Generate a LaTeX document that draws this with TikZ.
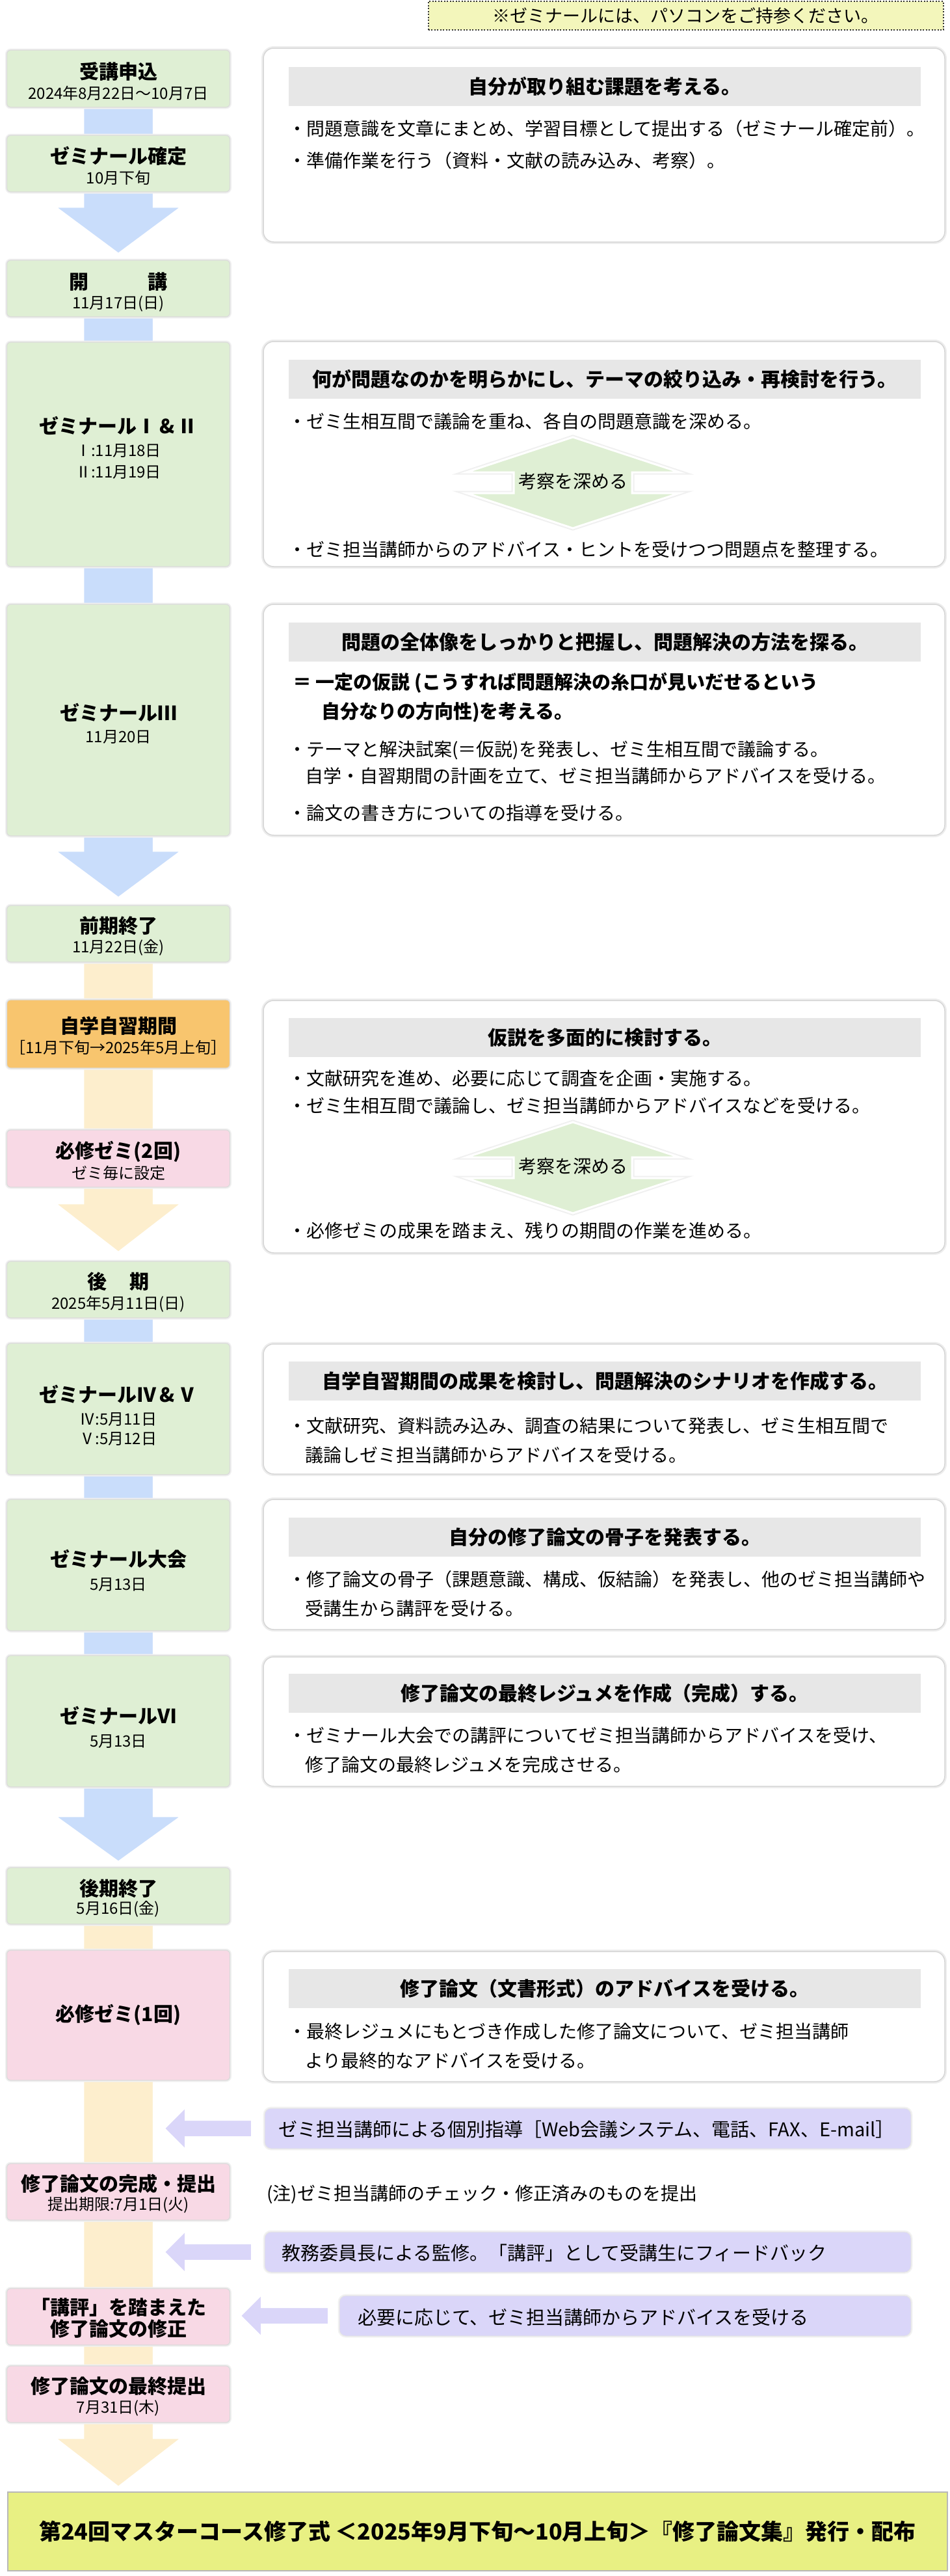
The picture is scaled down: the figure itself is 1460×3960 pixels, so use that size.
\documentclass[tikz,border=0pt]{standalone}
\usepackage{fontspec}
\setmainfont{Noto Sans CJK JP}
\usetikzlibrary{calc,backgrounds}
\definecolor{gbox}{RGB}{223,239,212}
\definecolor{bluec}{RGB}{201,221,251}
\definecolor{olight}{RGB}{253,238,205}
\definecolor{obox}{RGB}{248,197,110}
\definecolor{pinkc}{RGB}{248,217,229}
\definecolor{purp}{RGB}{218,214,249}
\definecolor{hgrey}{RGB}{231,231,231}
\definecolor{finalc}{RGB}{232,240,131}
\definecolor{notec}{RGB}{243,246,187}
\newcommand\fsz[1]{\fontsize{#1pt}{#1pt}\selectfont}
\newcommand\flowarr[4]{\fill[#4, draw=white, line width=2.5pt] ($(#1.center)+(-54,0)$) -- (128,#2) -- (85,#2) -- (182,#3) -- (279,#2) -- (236,#2) -- ($(#1.center)+(54,0)$) -- cycle;}
\newcommand\parr[4]{\fill[purp, draw=white, line width=2pt] (#1,#2) -- (#3,{#2-32}) -- (#3,{#2-13}) -- (#4,{#2-13}) -- (#4,{#2+13}) -- (#3,{#2+13}) -- (#3,{#2+32}) -- cycle;}
\newcommand\dblarr[2]{\path[fill=gbox, draw=white, line width=3pt, preaction={draw=black!6, line width=7pt}] (881,#2) -- (1045,{#2+54}) -- (972,{#2+54}) -- (972,{#2+86}) -- (1045,{#2+86}) -- (881,{#2+140}) -- (717,{#2+86}) -- (790,{#2+86}) -- (790,{#2+54}) -- (717,{#2+54}) -- cycle;
\node[inner sep=0pt, font=\fsz{28}] (#1) at (881,{#2+68}) {考察を深める};}
\tikzset{
 lbox/.style={draw=black!14, line width=1.2pt, rounded corners=6pt, minimum width=343pt, inner sep=0pt, preaction={draw=black!6, line width=5pt}},
 rbox/.style={draw=black!16, line width=1.5pt, fill=white, rounded corners=16pt, minimum width=1048pt, inner sep=0pt, preaction={draw=black!7, line width=6pt}},
 hdrband/.style={fill=hgrey, minimum width=972pt, minimum height=60pt, inner sep=0pt, font=\fsz{30}\bfseries},
 ltitle/.style={inner sep=0pt, font=\fsz{30}\bfseries},
 lsub/.style={inner sep=0pt, font=\fsz{24}},
 btext/.style={anchor=west, inner sep=0pt, font=\fsz{28}},
 ptext/.style={anchor=west, inner sep=0pt, font=\fsz{29}},
 bbold/.style={anchor=west, inner sep=0pt, font=\fsz{29}\bfseries},
 pbox/.style={fill=purp, draw=black!10, line width=1pt, rounded corners=10pt, inner sep=0pt, minimum height=62pt, preaction={draw=black!5, line width=5pt}},
}
\begin{document}
\begin{tikzpicture}[x=1pt,y=-1pt]
\useasboundingbox (0,0) rectangle (1460,3960);

% top note
\node[draw=black!80, line width=2pt, dash pattern=on 2pt off 2.5pt, fill=notec, minimum width=792pt, minimum height=44pt, inner sep=0pt, font=\fsz{27}] (note) at (1054.5,24) {※ゼミナールには、パソコンをご持参ください。};

% left boxes
\node[lbox, fill=gbox, minimum height=88pt] (b1) at (182,121) {};
\node[lbox, fill=gbox, minimum height=87pt] (b2) at (182,251.5) {};
\node[lbox, fill=gbox, minimum height=87pt] (b3) at (182,443.5) {};
\node[lbox, fill=gbox, minimum height=345pt] (b4) at (182,698.5) {};
\node[lbox, fill=gbox, minimum height=356pt] (b5) at (182,1107) {};
\node[lbox, fill=gbox, minimum height=87pt] (b6) at (182,1435.5) {};
\node[lbox, fill=obox, minimum height=105pt] (b7) at (182,1589.5) {};
\node[lbox, fill=pinkc, minimum height=88pt] (b8) at (182,1781) {};
\node[lbox, fill=gbox, minimum height=87pt] (b9) at (182,1982.5) {};
\node[lbox, fill=gbox, minimum height=202pt] (b10) at (182,2166) {};
\node[lbox, fill=gbox, minimum height=202pt] (b11) at (182,2406) {};
\node[lbox, fill=gbox, minimum height=202pt] (b12) at (182,2646) {};
\node[lbox, fill=gbox, minimum height=87pt] (b13) at (182,2914.5) {};
\node[lbox, fill=pinkc, minimum height=200pt] (b14) at (182,3098) {};
\node[lbox, fill=pinkc, minimum height=87pt] (b15) at (182,3369.5) {};
\node[lbox, fill=pinkc, minimum height=87pt] (b16) at (182,3561.5) {};
\node[lbox, fill=pinkc, minimum height=87pt] (b17) at (182,3680.5) {};

% left texts
\node[ltitle] (t1) at (182,110) {受講申込};
\node[lsub] (s1) at (182,143) {2024年8月22日～10月7日};
\node[ltitle] (t2) at (182,240) {ゼミナール確定};
\node[lsub] (s2) at (182,273) {10月下旬};
\node[ltitle] (t3) at (182,433) {開\hspace{91pt}講};
\node[lsub] (s3) at (182,467) {11月17日(日)};
\node[ltitle] (t4) at (182,654) {ゼミナールⅠ\,\&\,Ⅱ};
\node[lsub] (s4a) at (182,693) {Ⅰ:11月18日};
\node[lsub] (s4b) at (182,726) {Ⅱ:11月19日};
\node[ltitle] (t5) at (182,1095) {ゼミナールⅢ};
\node[lsub] (s5) at (182,1133) {11月20日};
\node[ltitle] (t6) at (182,1423) {前期終了};
\node[lsub] (s6) at (182,1457) {11月22日(金)};
\node[ltitle] (t7) at (182,1577) {自学自習期間};
\node[lsub] (s7) at (182,1610) {［11月下旬→2025年5月上旬］};
\node[ltitle] (t8) at (182,1770) {必修ゼミ(2回)};
\node[lsub] (s8) at (182,1803) {ゼミ毎に設定};
\node[ltitle] (t9) at (182,1970) {後\hspace{35pt}期};
\node[lsub] (s9) at (182,2005) {2025年5月11日(日)};
\node[ltitle] (t10) at (182,2143) {ゼミナールⅣ\,\&\,Ⅴ};
\node[lsub] (s10a) at (182,2182) {Ⅳ:5月11日};
\node[lsub] (s10b) at (182,2212) {Ⅴ:5月12日};
\node[ltitle] (t11) at (182,2397) {ゼミナール大会};
\node[lsub] (s11) at (182,2436) {5月13日};
\node[ltitle] (t12) at (182,2637) {ゼミナールⅥ};
\node[lsub] (s12) at (182,2677) {5月13日};
\node[ltitle] (t13) at (182,2903) {後期終了};
\node[lsub] (s13) at (182,2935) {5月16日(金)};
\node[ltitle] (t14) at (182,3097) {必修ゼミ(1回)};
\node[ltitle] (t15) at (182,3357) {修了論文の完成・提出};
\node[lsub] (s15) at (182,3390) {提出期限:7月1日(火)};
\node[ltitle] (t16a) at (182,3547) {「講評」を踏まえた};
\node[ltitle] (t16b) at (182,3580) {修了論文の修正};
\node[ltitle] (t17) at (182,3668) {修了論文の最終提出};
\node[lsub] (s17) at (182,3702) {7月31日(木)};

% right boxes
\node[rbox, minimum height=298pt] (r1) at (929,223) {};
\node[hdrband] (h1) at (930,132.5) {自分が取り組む課題を考える。};
\node[btext] (r1a) at (443,198) {・問題意識を文章にまとめ、学習目標として提出する（ゼミナール確定前）。};
\node[btext] (r1b) at (443,247) {・準備作業を行う（資料・文献の読み込み、考察）。};

\node[rbox, minimum height=346pt] (r2) at (929,698) {};
\node[hdrband] (h2) at (930,583) {何が問題なのかを明らかにし、テーマの絞り込み・再検討を行う。};
\node[btext] (r2a) at (443,648) {・ゼミ生相互間で議論を重ね、各自の問題意識を深める。};
\dblarr{k1}{672}
\node[btext] (r2b) at (443,845) {・ゼミ担当講師からのアドバイス・ヒントを受けつつ問題点を整理する。};

\node[rbox, minimum height=355pt] (r3) at (929,1106.5) {};
\node[hdrband] (h3) at (930,987) {問題の全体像をしっかりと把握し、問題解決の方法を探る。};
\node[bbold] (r3a) at (450,1050) {＝ 一定の仮説 (こうすれば問題解決の糸口が見いだせるという};
\node[bbold] (r3b) at (494,1095) {自分なりの方向性)を考える。};
\node[btext] (r3c) at (443,1153) {・テーマと解決試案(＝仮説)を発表し、ゼミ生相互間で議論する。};
\node[btext] (r3d) at (469,1193) {自学・自習期間の計画を立て、ゼミ担当講師からアドバイスを受ける。};
\node[btext] (r3e) at (443,1250) {・論文の書き方についての指導を受ける。};

\node[rbox, minimum height=388pt] (r4) at (929,1732) {};
\node[hdrband] (h4) at (930,1595) {仮説を多面的に検討する。};
\node[btext] (r4a) at (443,1658) {・文献研究を進め、必要に応じて調査を企画・実施する。};
\node[btext] (r4b) at (443,1700) {・ゼミ生相互間で議論し、ゼミ担当講師からアドバイスなどを受ける。};
\dblarr{k2}{1725}
\node[btext] (r4c) at (443,1892) {・必修ゼミの成果を踏まえ、残りの期間の作業を進める。};

\node[rbox, minimum height=200pt] (r5) at (929,2166) {};
\node[hdrband] (h5) at (930,2123) {自学自習期間の成果を検討し、問題解決のシナリオを作成する。};
\node[btext] (r5a) at (443,2192) {・文献研究、資料読み込み、調査の結果について発表し、ゼミ生相互間で};
\node[btext] (r5b) at (469,2237) {議論しゼミ担当講師からアドバイスを受ける。};

\node[rbox, minimum height=200pt] (r6) at (929,2405) {};
\node[hdrband] (h6) at (930,2363) {自分の修了論文の骨子を発表する。};
\node[btext] (r6a) at (443,2428) {・修了論文の骨子（課題意識、構成、仮結論）を発表し、他のゼミ担当講師や};
\node[btext] (r6b) at (469,2473) {受講生から講評を受ける。};

\node[rbox, minimum height=199pt] (r7) at (929,2646.5) {};
\node[hdrband] (h7) at (930,2603) {修了論文の最終レジュメを作成（完成）する。};
\node[btext] (r7a) at (443,2668) {・ゼミナール大会での講評についてゼミ担当講師からアドバイスを受け、};
\node[btext] (r7b) at (469,2713) {修了論文の最終レジュメを完成させる。};

\node[rbox, minimum height=200pt] (r8) at (929,3100) {};
\node[hdrband] (h8) at (930,3057) {修了論文（文書形式）のアドバイスを受ける。};
\node[btext] (r8a) at (443,3123) {・最終レジュメにもとづき作成した修了論文について、ゼミ担当講師};
\node[btext] (r8b) at (469,3168) {より最終的なアドバイスを受ける。};

% purple boxes
\node[pbox, minimum width=994pt] (p1) at (904,3272) {};
\node[ptext] (p1t) at (428,3273) {ゼミ担当講師による個別指導［Web会議システム、電話、FAX、E-mail］};
\node[btext] (note2) at (410,3373) {(注)ゼミ担当講師のチェック・修正済みのものを提出};
\node[pbox, minimum width=994pt] (p2) at (904,3462) {};
\node[ptext] (p2t) at (433,3463) {教務委員長による監修。「講評」として受講生にフィードバック};
\node[pbox, minimum width=879pt] (p3) at (961.5,3560) {};
\node[ptext] (p3t) at (550,3562) {必要に応じて、ゼミ担当講師からアドバイスを受ける};
\parr{253}{3272}{285}{387}
\parr{253}{3462}{285}{387}
\parr{370}{3560}{402}{505}

% final box
\node[draw=black!28, line width=2pt, fill=finalc, minimum width=1445pt, minimum height=121pt, inner sep=0pt, font=\fsz{34}\bfseries] (fin) at (734.5,3891.5) {第24回マスターコース修了式 ＜2025年9月下旬～10月上旬＞『修了論文集』発行・配布};

% flow arrows behind
\begin{pgfonlayer}{background}
\flowarr{b1}{318}{390}{bluec}
\flowarr{b3}{1308}{1380}{bluec}
\flowarr{b6}{1850}{1925}{olight}
\flowarr{b9}{2792}{2862}{bluec}
\flowarr{b13}{3748}{3823}{olight}
\end{pgfonlayer}
\end{tikzpicture}
\end{document}
